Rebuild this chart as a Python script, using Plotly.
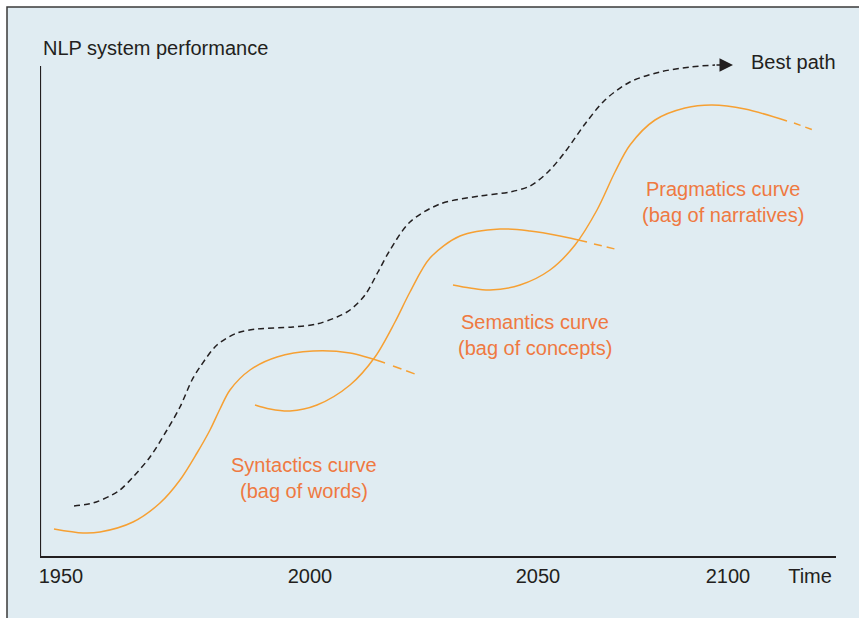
import plotly.graph_objects as go

# ---- schematic data (x: time units along axis, y: performance units) ----
FONT = "Liberation Sans, Arial, sans-serif"
FS = 20

best_x = [34, 53, 70, 80, 93, 110, 127, 140, 152, 160, 177, 197, 217, 253, 277, 297, 310, 325, 338, 350, 370, 400, 440, 470, 490, 508, 525, 545, 565, 590, 620, 650, 675]
best_y = [50, 53, 60, 66, 79, 99, 126, 149, 176, 189, 211, 223, 227, 229, 232, 239, 246, 261, 284, 306, 334, 352, 360, 364, 370, 384, 404, 432, 456, 474, 484, 489, 491]
best_tip = 693

syn_x = [14, 43, 60, 93, 120, 140, 157, 170, 180, 190, 210, 237, 273, 310, 345]
syn_y = [27, 23, 24, 34, 53, 76, 103, 126, 147, 166, 186, 199, 205, 203, 193]
syn_tail_x = [353, 375]
syn_tail_y = [190, 182]

sem_x = [215, 230, 250, 277, 310, 335, 355, 370, 390, 420, 460, 490, 520, 547]
sem_y = [151, 147, 145, 151, 171, 199, 234, 264, 298, 320, 327, 325, 320, 314]
sem_tail_x = [554, 575]
sem_tail_y = [312, 307]

pra_x = [413, 430, 450, 480, 510, 535, 557, 575, 590, 615, 645, 672, 705, 747]
pra_y = [271, 268, 266, 271, 286, 311, 346, 384, 411, 436, 448, 451, 447, 435]
pra_tail_x = [754, 773]
pra_tail_y = [433, 426]

tick_vals = [21, 270, 498, 688, 770]
tick_text = ["1950", "2000", "2050", "2100", "Time"]

label_x = [264, 264, 495, 495, 683, 683]
label_y = [91, 65, 234, 208, 367, 341]
label_text = ["Syntactics curve", "(bag of words)", "Semantics curve", "(bag of concepts)",
              "Pragmatics curve", "(bag of narratives)"]

ORANGE = "#F6A033"
LABEL_ORANGE = "#EF7941"
DARK = "#231F20"
BG = "#E0ECF2"

fig = go.Figure()

fig.add_trace(go.Scatter(x=best_x, y=best_y, mode="lines", line=dict(color=DARK, width=1.5, dash="6px,4px", shape="spline", smoothing=0.9), hoverinfo="skip"))

for xs, ys, tx, ty, d in [(syn_x, syn_y, syn_tail_x, syn_tail_y, "9px,5px"),
                          (sem_x, sem_y, sem_tail_x, sem_tail_y, "8px,5px"),
                          (pra_x, pra_y, pra_tail_x, pra_tail_y, "7px,5px")]:
    fig.add_trace(go.Scatter(x=xs, y=ys, mode="lines", line=dict(color=ORANGE, width=1.5, shape="spline", smoothing=0.9), hoverinfo="skip"))
    fig.add_trace(go.Scatter(x=tx, y=ty, mode="lines", line=dict(color=ORANGE, width=1.5, dash=d), hoverinfo="skip"))

# arrow head at end of best path
fig.add_annotation(x=best_tip, y=best_y[-1], ax=best_x[-1], ay=best_y[-1], xref="x", yref="y", axref="x", ayref="y",
                   showarrow=True, arrowhead=2, arrowsize=1.8, arrowwidth=1.5, arrowcolor=DARK, text="", standoff=0)

for tx, ty, tt in zip(label_x, label_y, label_text):
    fig.add_annotation(x=tx, y=ty, xref="x", yref="y", text=tt, showarrow=False,
                       font=dict(family=FONT, size=FS, color=LABEL_ORANGE), xanchor="center", yanchor="middle")

fig.add_annotation(x=709, y=494, xref="x", yref="y", text="Best path", showarrow=False,
                   font=dict(family=FONT, size=FS, color=DARK), xanchor="left", yanchor="middle")
fig.add_annotation(x=1, y=508, xref="x", yref="y", text="NLP system performance", showarrow=False,
                   font=dict(family=FONT, size=FS, color=DARK), xanchor="left", yanchor="middle")

# background panel with top/left border
L, T, W, H = 40, 40, 796, 516
def px(v): return (v - L) / W
def py(v): return (T + H - v) / H
fig.add_shape(type="rect", xref="paper", yref="paper", x0=px(7), x1=px(880), y0=py(640), y1=py(7),
              fillcolor=BG, line=dict(color="#3a3a3a", width=1.5), layer="below")
# y axis line
fig.add_shape(type="line", xref="x", yref="y", x0=0, x1=0, y0=0, y1=490, line=dict(color=DARK, width=2.2))

fig.update_layout(
    width=859, height=618,
    margin=dict(l=L, r=859 - L - W, t=T, b=618 - T - H),
    paper_bgcolor="white", plot_bgcolor="rgba(0,0,0,0)",
    showlegend=False,
    xaxis=dict(range=[0, 796], showgrid=False, zeroline=False, showline=True, linecolor=DARK, linewidth=2.2,
               tickvals=tick_vals, ticktext=tick_text, ticks="", tickfont=dict(family=FONT, size=FS, color=DARK),
               ticklabelstandoff=1, fixedrange=True),
    yaxis=dict(range=[0, 516], visible=False, fixedrange=True),
)

fig.write_html("out.html", config={"displayModeBar": False},
               post_script="document.body.style.margin='0px';document.body.style.overflow='hidden';")
